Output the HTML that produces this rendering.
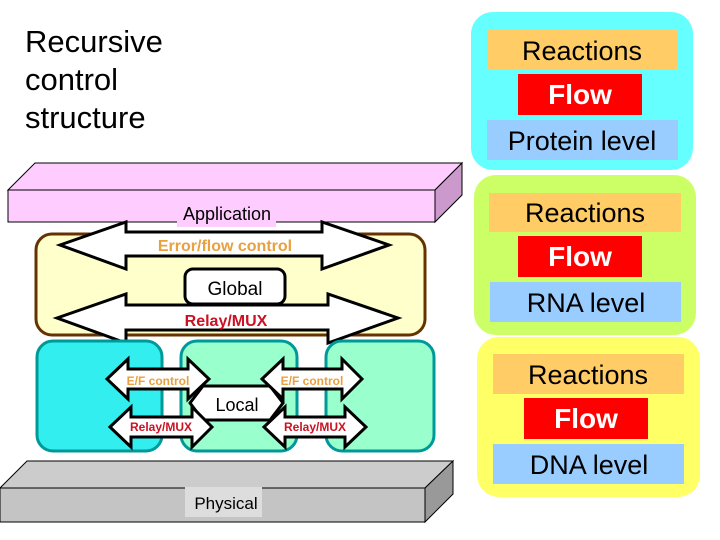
<!DOCTYPE html>
<html><head><style>
html,body{margin:0;padding:0;background:#fff;}
svg{display:block;}
text{font-family:"Liberation Sans",Arial,sans-serif;}
</style></head><body>
<svg width="720" height="540" viewBox="0 0 720 540" xmlns="http://www.w3.org/2000/svg">
<rect width="720" height="540" fill="#fff"/>
<!-- Title -->
<text x="25" y="52" font-size="31" fill="#000">Recursive</text>
<text x="25" y="90" font-size="31" fill="#000">control</text>
<text x="25" y="128" font-size="31" fill="#000">structure</text>

<!-- Right panels -->
<rect x="471" y="12" width="222" height="158" rx="22" fill="#66ffff"/>
<rect x="487" y="30" width="191" height="40" fill="#ffcc66"/>
<text x="582" y="60" font-size="27" text-anchor="middle">Reactions</text>
<rect x="518" y="74" width="124" height="41" fill="#ff0000"/>
<text x="580" y="104" font-size="28" font-weight="bold" fill="#fff" text-anchor="middle">Flow</text>
<rect x="487" y="120" width="191" height="40" fill="#99ccff"/>
<text x="582" y="150" font-size="27" text-anchor="middle">Protein level</text>

<rect x="474" y="175" width="222" height="160" rx="22" fill="#ccff66"/>
<rect x="489" y="193" width="192" height="39" fill="#ffcc66"/>
<text x="585" y="222" font-size="27" text-anchor="middle">Reactions</text>
<rect x="518" y="236" width="124" height="41" fill="#ff0000"/>
<text x="580" y="266" font-size="28" font-weight="bold" fill="#fff" text-anchor="middle">Flow</text>
<rect x="490" y="282" width="191" height="40" fill="#99ccff"/>
<text x="586" y="312" font-size="27" text-anchor="middle">RNA level</text>

<rect x="477" y="337" width="223" height="160" rx="22" fill="#ffff66"/>
<rect x="493" y="354" width="191" height="40" fill="#ffcc66"/>
<text x="588" y="384" font-size="27" text-anchor="middle">Reactions</text>
<rect x="524" y="398" width="124" height="41" fill="#ff0000"/>
<text x="586" y="428" font-size="28" font-weight="bold" fill="#fff" text-anchor="middle">Flow</text>
<rect x="493" y="444" width="191" height="40" fill="#99ccff"/>
<text x="589" y="474" font-size="27" text-anchor="middle">DNA level</text>

<!-- Application slab -->
<polygon points="8,190 35,163 462,163 435,190" fill="#ffccff" stroke="#000" stroke-width="1"/>
<polygon points="435,190 462,163 462,195 435,222" fill="#cc99cc" stroke="#000" stroke-width="1"/>
<rect x="8" y="190" width="427" height="32" fill="#ffccff" stroke="#000" stroke-width="1"/>

<!-- Yellow global box -->
<rect x="36" y="234" width="389" height="101" rx="16" fill="#ffffcc" stroke="#663300" stroke-width="3"/>

<!-- Upper arrow -->
<polygon points="60,245 126,222 126,232 322,232 322,222 389,245 322,269 322,256 126,256 126,269" fill="#fff" stroke="#000" stroke-width="3" stroke-linejoin="miter"/>
<rect x="177" y="200" width="99" height="27" fill="#ffccff"/>
<text x="227" y="220" font-size="18" text-anchor="middle">Application</text>
<text x="225" y="251" font-size="16" font-weight="bold" fill="#e8a040" text-anchor="middle">Error/flow control</text>

<!-- Lower arrow -->
<polygon points="57,318 126,294 126,305 328,305 328,294 398,318 328,343 328,330 126,330 126,343" fill="#fff" stroke="#000" stroke-width="3"/>
<rect x="185" y="269" width="100" height="35" rx="8" fill="#fff" stroke="#000" stroke-width="3"/>
<text x="235" y="295" font-size="19" text-anchor="middle">Global</text>
<text x="226" y="326" font-size="16" font-weight="bold" fill="#cc1122" text-anchor="middle">Relay/MUX</text>

<!-- Local boxes -->
<rect x="37" y="341" width="125" height="110" rx="16" fill="#33eeee" stroke="#009999" stroke-width="3"/>
<rect x="181" y="341" width="116" height="110" rx="16" fill="#99ffcc" stroke="#009999" stroke-width="3"/>
<rect x="326" y="341" width="108" height="110" rx="16" fill="#99ffcc" stroke="#009999" stroke-width="3"/>

<!-- Local center -->
<polygon points="190,403 203,386 270,386 283,403 270,420 203,420" fill="#fff" stroke="#000" stroke-width="3"/>
<text x="237" y="411" font-size="18" text-anchor="middle">Local</text>

<!-- small arrows -->
<g fill="#fff" stroke="#000" stroke-width="3">
<polygon points="107,379 128,359 128,369 188,369 188,359 209,379 188,399 188,389 128,389 128,399"/>
<polygon points="262,379 283,359 283,369 342,369 342,359 362,379 342,399 342,389 283,389 283,399"/>
<polygon points="110,427 131,407 131,417 192,417 192,407 212,427 192,447 192,437 131,437 131,447"/>
<polygon points="264,427 285,407 285,417 345,417 345,407 366,427 345,447 345,437 285,437 285,447"/>
</g>
<text x="158" y="385" font-size="12" font-weight="bold" fill="#e8a040" text-anchor="middle">E/F control</text>
<text x="312" y="385" font-size="12" font-weight="bold" fill="#e8a040" text-anchor="middle">E/F control</text>
<text x="161" y="431" font-size="12" font-weight="bold" fill="#cc1122" text-anchor="middle">Relay/MUX</text>
<text x="315" y="431" font-size="12" font-weight="bold" fill="#cc1122" text-anchor="middle">Relay/MUX</text>

<!-- Physical slab -->
<polygon points="0,488 27,461 453,461 425,488" fill="#cccccc" stroke="#000" stroke-width="1"/>
<polygon points="425,488 453,461 453,494 425,522" fill="#999999" stroke="#000" stroke-width="1"/>
<rect x="0" y="488" width="425" height="34" fill="#c4c4c4" stroke="#000" stroke-width="1"/>
<rect x="185" y="487" width="77" height="30" fill="#dddddd"/>
<text x="226" y="509" font-size="17" text-anchor="middle">Physical</text>
</svg>
</body></html>
